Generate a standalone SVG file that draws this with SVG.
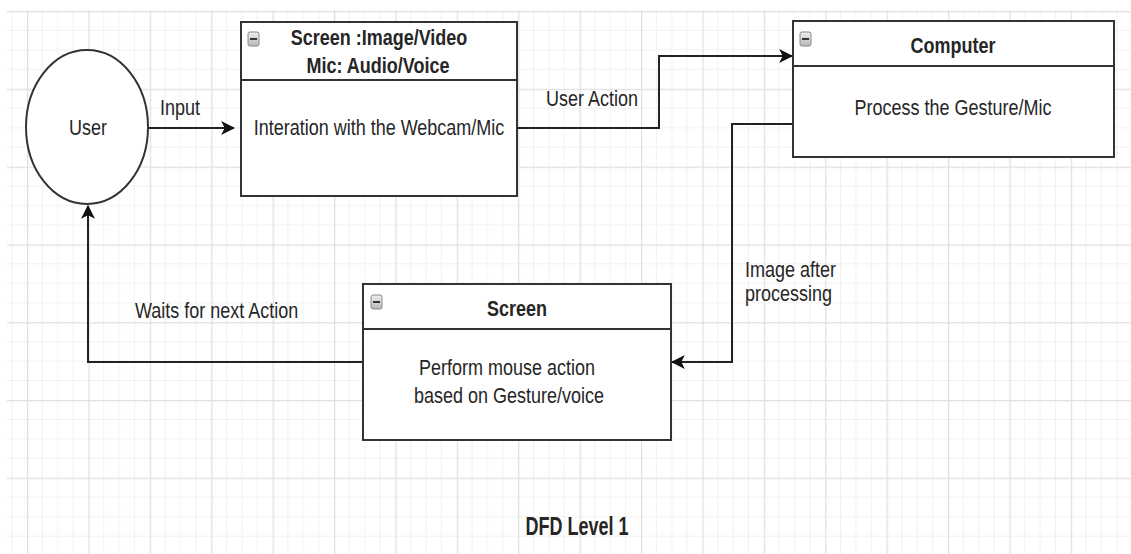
<svg xmlns="http://www.w3.org/2000/svg" width="1131" height="554" viewBox="0 0 1131 554">
<defs>
<style>
.box{fill:#fff;stroke:#333;stroke-width:2}
.sep{stroke:#333;stroke-width:2}
.conn{fill:none;stroke:#222;stroke-width:2}
.t{font-family:"Liberation Sans",Arial,sans-serif;font-size:18px;fill:#262626}
.b{font-weight:bold}
.icon{fill:url(#ig);stroke:#8a8a8a;stroke-width:1}
.minus{stroke:#333;stroke-width:2}
</style>
<linearGradient id="ig" x1="0" y1="0" x2="0" y2="1">
<stop offset="0" stop-color="#eeeeee"/>
<stop offset="1" stop-color="#b8b8b8"/>
</linearGradient>
<pattern id="grid" patternUnits="userSpaceOnUse" x="27" y="11" width="61.4" height="77.8">
<path d="M15.35,0V77.8M30.7,0V77.8M46.05,0V77.8M0,19.45H61.4M0,38.9H61.4M0,58.35H61.4" stroke="#f1f1f1" stroke-width="1" fill="none"/>
<path d="M0.5,0V77.8M0,0.5H61.4" stroke="#e0e0e0" stroke-width="1.5" fill="none"/>
</pattern>
<marker id="arr" markerUnits="userSpaceOnUse" markerWidth="14" markerHeight="14" viewBox="0 0 12 12" refX="11" refY="6" orient="auto">
<path d="M0,0 L12,6 L0,12 L3,6 z" fill="#111"/>
</marker>
</defs>
<rect x="0" y="0" width="1131" height="554" fill="#fff"/>
<rect x="7" y="10" width="1124" height="544" fill="url(#grid)"/>

<g id="connectors">
<path class="conn" d="M148,128 H234" marker-end="url(#arr)"/>
<path class="conn" d="M517,128 H659 V56 H792" marker-end="url(#arr)"/>
<path class="conn" d="M793,124 H732 V362 H672" marker-end="url(#arr)"/>
<path class="conn" d="M363,362 H88 V206" marker-end="url(#arr)"/>
<text class="t" transform="translate(160,115) scale(1,1.22)">Input</text>
<text class="t" transform="translate(546,106) scale(1,1.22)">User Action</text>
<text class="t" transform="translate(745,277) scale(1,1.22)">Image after</text>
<text class="t" transform="translate(745,301) scale(1,1.22)">processing</text>
<text class="t" transform="translate(135,318) scale(1,1.22)">Waits for next Action</text>
</g>

<g id="user">
<ellipse cx="87" cy="127" rx="61" ry="77" fill="#fff" stroke="#333" stroke-width="2"/>
<text class="t" text-anchor="middle" transform="translate(88,135) scale(1,1.22)">User</text>
</g>

<g id="screen-input">
<rect class="box" x="241" y="22" width="276" height="174"/>
<line class="sep" x1="241" y1="80" x2="517" y2="80"/>
<rect class="icon" x="248" y="32" width="11" height="14" rx="2"/>
<line class="minus" x1="250" y1="39" x2="257" y2="39"/>
<text class="t b" text-anchor="middle" transform="translate(379,45) scale(1,1.22)">Screen :Image/Video</text>
<text class="t b" text-anchor="middle" transform="translate(378,73) scale(1,1.22)">Mic: Audio/Voice</text>
<text class="t" text-anchor="middle" transform="translate(379,135) scale(1,1.22)">Interation with the Webcam/Mic</text>
</g>

<g id="computer">
<rect class="box" x="793" y="21" width="321" height="136"/>
<line class="sep" x1="793" y1="66" x2="1114" y2="66"/>
<rect class="icon" x="800" y="32" width="11" height="14" rx="2"/>
<line class="minus" x1="802" y1="39" x2="809" y2="39"/>
<text class="t b" text-anchor="middle" transform="translate(953,53) scale(1,1.22)">Computer</text>
<text class="t" text-anchor="middle" transform="translate(953,115) scale(1,1.22)">Process the Gesture/Mic</text>
</g>

<g id="screen-output">
<rect class="box" x="363" y="284" width="308" height="156"/>
<line class="sep" x1="363" y1="329" x2="671" y2="329"/>
<rect class="icon" x="371" y="295" width="11" height="14" rx="2"/>
<line class="minus" x1="373" y1="302" x2="380" y2="302"/>
<text class="t b" text-anchor="middle" transform="translate(517,316) scale(1,1.22)">Screen</text>
<text class="t" text-anchor="middle" transform="translate(507,375) scale(1,1.22)">Perform mouse action</text>
<text class="t" text-anchor="middle" transform="translate(509,403) scale(1,1.22)">based on Gesture/voice</text>
</g>

<g id="title">
<text class="t b" text-anchor="middle" transform="translate(577,535) scale(1,1.4)">DFD Level 1</text>
</g>
</svg>
